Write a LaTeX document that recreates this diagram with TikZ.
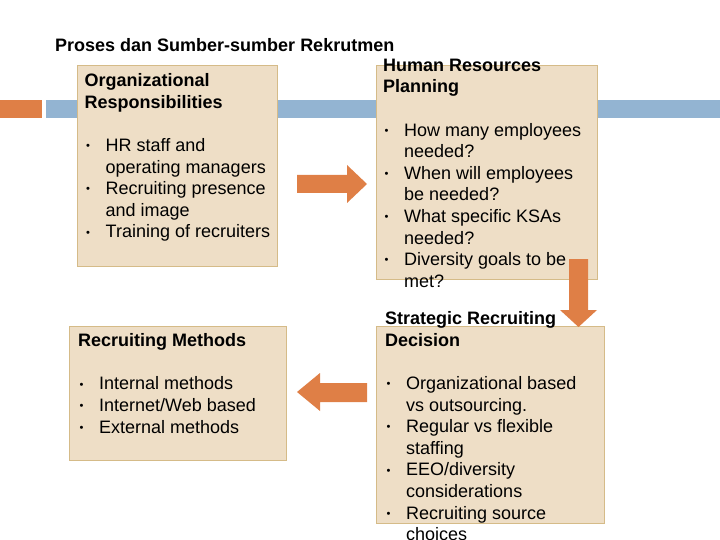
\documentclass[tikz,border=0pt]{standalone}
\usepackage{fontspec}
\usepackage{graphicx}
\setmainfont{Liberation Sans}
\definecolor{arroworange}{HTML}{DF7F46}
\definecolor{bandblue}{HTML}{93B4D2}
\definecolor{boxfill}{HTML}{EEDEC6}
\definecolor{boxline}{HTML}{D5BB88}
\newcommand{\bul}{\makebox[21pt][l]{\hspace{1.5pt}\raisebox{1.8pt}{\scalebox{0.62}{•}}}}
\newcommand{\ind}{\hspace*{21pt}}
\begin{document}
\begin{tikzpicture}[x=1pt,y=-1pt]
	\tikzstyle{Box} = [rectangle, draw=boxline, fill=boxfill, line width=1pt, anchor=north west, inner sep=0pt]
	\tikzstyle{Text} = [anchor=north west, inner sep=0pt, align=left, font=\fontsize{18}{21.6}\selectfont]
	\useasboundingbox (0,0) rectangle (720,540);
	\fill [arroworange] (0,100) rectangle (42,118);
	\fill [bandblue] (46,100) rectangle (720,118);
	\node (title) at (55,52) [anchor=base west, inner sep=0pt, font=\fontsize{18}{21.6}\selectfont\bfseries] {Proses dan Sumber-sumber Rekrutmen};
	\node (1) at (77,65) [Box, minimum width=200, minimum height=201] {};
	\node (2) at (376,65) [Box, minimum width=221, minimum height=214] {};
	\node (3) at (69,326) [Box, minimum width=217, minimum height=134] {};
	\node (4) at (376,326) [Box, minimum width=228, minimum height=197] {};
	\node (t1) at (84.5,71.5) [Text] {\rule{0pt}{15pt}\textbf{Organizational}\\\textbf{Responsibilities}\\[21.6pt]
		\bul HR staff and\\\ind operating managers\\\bul Recruiting presence\\\ind and image\\\bul Training of recruiters};
	\node (t2) at (383,56) [Text] {\rule{0pt}{15pt}\textbf{Human Resources}\\\textbf{Planning}\\[21.6pt]
		\bul How many employees\\\ind needed?\\\bul When will employees\\\ind be needed?\\\bul What specific KSAs\\\ind needed?\\\bul Diversity goals to be\\\ind met?};
	\node (t3) at (78,331.5) [Text] {\rule{0pt}{15pt}\textbf{Recruiting Methods}\\[21.6pt]
		\bul Internal methods\\\bul Internet/Web based\\\bul External methods};
	\node (t4) at (385,309.5) [Text] {\rule{0pt}{15pt}\textbf{Strategic Recruiting}\\\textbf{Decision}\\[21.6pt]
		\bul Organizational based\\\ind vs outsourcing.\\\bul Regular vs flexible\\\ind staffing\\\bul EEO/diversity\\\ind considerations\\\bul Recruiting source\\\ind choices};
	% block arrows between the boxes
	\fill [arroworange] (297,175) -- (347,175) -- (347,165) -- (367,184) -- (347,203) -- (347,193) -- (297,193) -- cycle;
	\fill [arroworange] (569,259) -- (588,259) -- (588,310) -- (597,310) -- (578.5,327) -- (560,310) -- (569,310) -- cycle;
	\fill [arroworange] (367,383) -- (320,383) -- (320,373) -- (297,392) -- (320,411) -- (320,402) -- (367,402) -- cycle;
\end{tikzpicture}
\end{document}
